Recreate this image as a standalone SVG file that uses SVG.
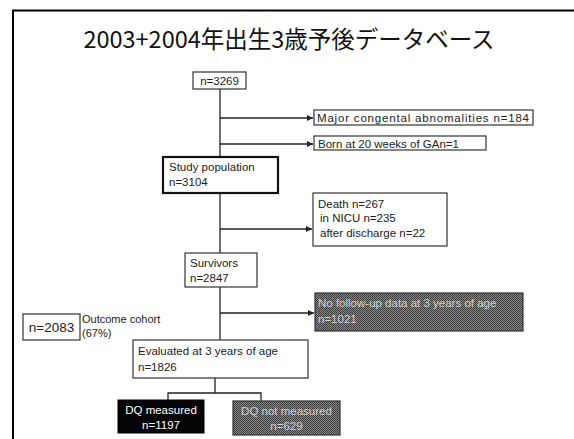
<svg xmlns="http://www.w3.org/2000/svg" width="574" height="439" viewBox="0 0 574 439">
<style>
.t{font-family:"Liberation Sans",Arial,sans-serif;font-size:11.5px;fill:#222}
.w{fill:#fff}
.g{fill:#d0d0d0}
.box{fill:#fff;stroke:#333;stroke-width:1.2}
.thick{fill:#fff;stroke:#111;stroke-width:2.2}
.dark{fill:url(#dither);stroke:#333;stroke-width:1.2}
.blk{fill:#050505;stroke:#000;stroke-width:1}
.ln{fill:none;stroke:#222;stroke-width:1.3}
</style>
<defs>
<pattern id="dither" width="2" height="2" patternUnits="userSpaceOnUse">
<rect width="2" height="2" fill="#8a8a8a"/>
<rect width="1" height="1" fill="#3a3a3a"/>
<rect x="1" y="1" width="1" height="1" fill="#3a3a3a"/>
</pattern>
<marker id="ah" viewBox="0 0 6 6" refX="6" refY="3" markerWidth="5" markerHeight="5" orient="auto">
<path d="M0,0 L6,3 L0,6 z" fill="#222"/>
</marker>
</defs>
<rect width="574" height="439" fill="#fff"/>
<path d="M13,439 V10.5 H574" fill="none" stroke="#000" stroke-width="2"/>
<text x="289" y="48" text-anchor="middle" style="font-family:'Noto Sans CJK JP','Noto Sans',sans-serif;font-size:23.5px;fill:#111">2003+2004年出生3歳予後データベース</text>

<g id="connectors">
<path class="ln" d="M220,89 V157"/>
<path class="ln" d="M220,118 H313" marker-end="url(#ah)"/>
<path class="ln" d="M220,144 H313" marker-end="url(#ah)"/>
<path class="ln" d="M220,193 V253"/>
<path class="ln" d="M220,229 H312" marker-end="url(#ah)"/>
<path class="ln" d="M220,287 V340"/>
<path class="ln" d="M220,313 H314" marker-end="url(#ah)"/>
<path class="ln" d="M215,378 V393 M168,401 V393 H261 V401"/>
</g>

<g id="n3269">
<rect class="box" x="193" y="72" width="53" height="17"/>
<text class="t" x="219.5" y="85" text-anchor="middle">n=3269</text>
</g>
<g id="major">
<rect class="box" x="314" y="110" width="219" height="15"/>
<text class="t" x="317" y="122" textLength="212" lengthAdjust="spacing">Major congental abnomalities n=184</text>
</g>
<g id="born">
<rect class="box" x="314" y="136" width="172" height="14"/>
<text class="t" x="318" y="147.5">Born at 20 weeks of GAn=1</text>
</g>
<g id="study">
<rect class="thick" x="163" y="157" width="115" height="36"/>
<text class="t" x="169" y="171">Study population</text>
<text class="t" x="169" y="186">n=3104</text>
</g>
<g id="death">
<rect class="box" x="313" y="193" width="134" height="53"/>
<text class="t" x="318" y="208">Death  n=267</text>
<text class="t" x="320" y="222">in NICU n=235</text>
<text class="t" x="320" y="237">after discharge n=22</text>
</g>
<g id="survivors">
<rect class="box" x="185" y="253" width="72" height="34"/>
<text class="t" x="190" y="267">Survivors</text>
<text class="t" x="190" y="282">n=2847</text>
</g>
<g id="nofollow">
<rect class="dark" x="315" y="293" width="208" height="38"/>
<text class="t g" x="318" y="307">No follow-up data at 3 years of age</text>
<text class="t g" x="318" y="323">n=1021</text>
</g>
<g id="cohort">
<rect class="box" x="23" y="314" width="57" height="26"/>
<text class="t" x="51.5" y="332" text-anchor="middle" style="font-size:13.5px">n=2083</text>
<text class="t" x="82" y="323" style="font-size:11px">Outcome cohort</text>
<text class="t" x="82" y="337" style="font-size:11px">(67%)</text>
</g>
<g id="evaluated">
<rect class="box" x="133" y="340" width="175" height="38"/>
<text class="t" x="138" y="355">Evaluated at 3 years of age</text>
<text class="t" x="138" y="371">n=1826</text>
</g>
<g id="dqm">
<rect class="blk" x="118" y="400" width="86" height="33"/>
<text class="t w" x="161" y="414" text-anchor="middle">DQ measured</text>
<text class="t w" x="161" y="429" text-anchor="middle">n=1197</text>
</g>
<g id="dqn">
<rect class="dark" x="233" y="401" width="107" height="34"/>
<text class="t g" x="286.5" y="415" text-anchor="middle">DQ not measured</text>
<text class="t g" x="286.5" y="430" text-anchor="middle">n=629</text>
</g>
</svg>
